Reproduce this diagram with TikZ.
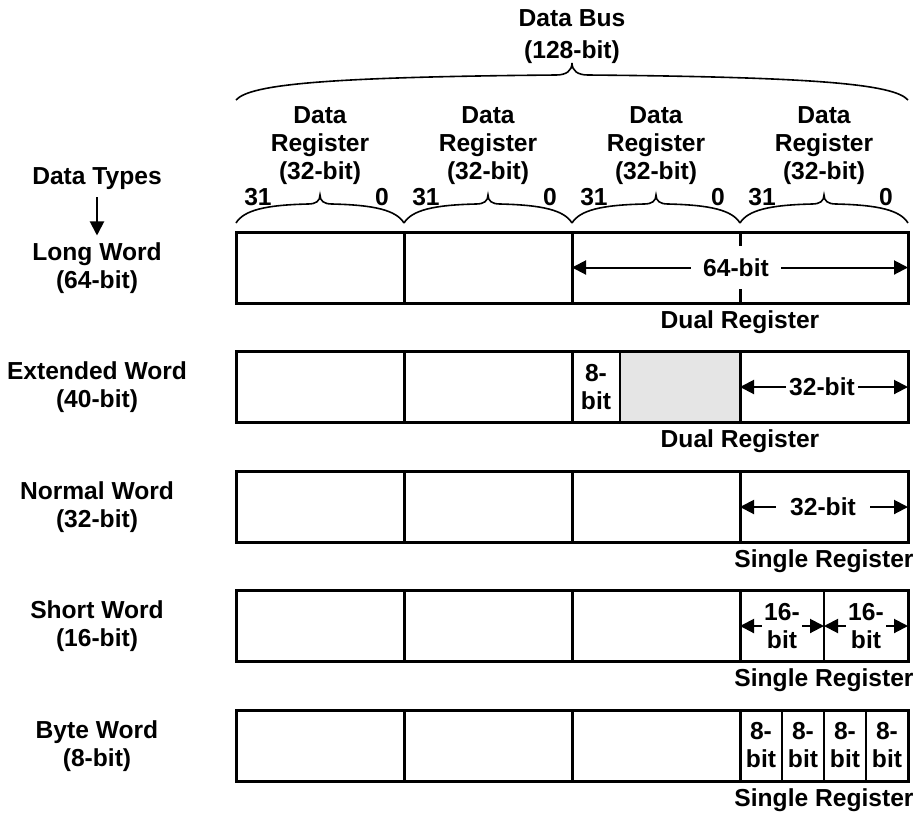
\documentclass[tikz,border=0pt]{standalone}
\usepackage{fontspec}
\setmainfont{Liberation Sans}
\usepackage{tikz}
\usetikzlibrary{arrows.meta}

\tikzset{
  every node/.style={font=\bfseries\fontsize{12.3}{14}\selectfont, align=center},
  reg/.style={draw, line width=1.5pt, minimum width=84pt, minimum height=35.5pt, inner sep=0pt, outer sep=0pt},
  bits/.style={draw, line width=1pt, minimum width=21pt, minimum height=35.5pt, inner sep=0pt, outer sep=0pt},
  span/.style={->, line width=1pt, >={Triangle[length=7pt,width=7pt]}},
  bus/.style={line width=0.8pt},
}

\begin{document}
\begin{tikzpicture}[x=0.5pt, y=-0.5pt]
    \useasboundingbox (0,0) rectangle (917,816);

    \node (bus) at (572,37) {Data Bus\\[2pt](128-bit)};
    \draw[bus] (236,100) .. controls (250,84) and (330,77) .. (556,75)
      .. controls (566,75) and (572,71) .. (572,63)
      .. controls (572,71) and (578,75) .. (588,75)
      .. controls (814,77) and (894,84) .. (908,100);
    \foreach \x/\n in {236/1,404/2,572/3,740/4} {
      \node (dr\n) at (\x+84,145.5) {Data\\Register\\(32-bit)};
      \node (hi\n) at (\x+22,197) {31};
      \node (lo\n) at (\x+146,197) {0};
      \draw[bus] (\x,223) .. controls (\x+8,210) and (\x+30,205) .. (\x+72,204)
        .. controls (\x+80,204) and (\x+84,201) .. (\x+84,195)
        .. controls (\x+84,201) and (\x+88,204) .. (\x+96,204)
        .. controls (\x+138,205) and (\x+160,210) .. (\x+168,223);
    }

    \node (types) at (97,179) {Data Types};
    \node (long) at (97,268) {Long Word\\(64-bit)};
    \node (ext) at (97,387) {Extended Word\\(40-bit)};
    \node (norm) at (97,507) {Normal Word\\(32-bit)};
    \node (short) at (97,626) {Short Word\\(16-bit)};
    \node (byte) at (97,746) {Byte Word\\(8-bit)};
    \draw[span] (types) -- (long);

    \foreach \y/\n in {267.5/1,387/2,506.5/3,626/4,745.5/5} {
      \node[reg] (a\n) at (320,\y) {};
      \node[reg] (b\n) at (488,\y) {};
    }

    % long word: dual register
    \node[reg, minimum width=168pt] (d1) at (740,267.5) {};
    \draw[line width=1.5pt] (d1.north) -- ++(0,14);
    \draw[line width=1.5pt] (d1.south) -- ++(0,-14);
    \node[inner sep=6pt] (w64) at (736,267.5) {64-bit};
    \draw[span] (w64) -- (w64 -| d1.west);
    \draw[span] (w64) -- (w64 -| d1.east);
    \node (dual1) at (740,322) {Dual Register};

    % extended word: dual register
    \node[bits, minimum width=24pt] (e8) at (596,387) {8-\\bit};
    \node[bits, minimum width=60pt, fill=black!10] (eg) at (680,387) {};
    \node[reg] (c2) at (656,387) {};
    \node[reg] (d2) at (824,387) {};
    \node[inner sep=1.5pt] (w32a) at (822,387) {32-bit};
    \draw[span] (w32a) -- (w32a -| d2.west);
    \draw[span] (w32a) -- (w32a -| d2.east);
    \node (dual2) at (740,441.5) {Dual Register};

    % normal word
    \node[reg] (c3) at (656,506.5) {};
    \node[reg] (d3) at (824,506.5) {};
    \node[inner sep=7pt] (w32b) at (823,507) {32-bit};
    \draw[span] (w32b) -- (w32b -| d3.west);
    \draw[span] (w32b) -- (w32b -| d3.east);
    \node (single3) at (824,561) {Single Register};

    % short word
    \node[reg] (c4) at (656,626) {};
    \node[bits, minimum width=42pt] (s1) at (782,626) {};
    \node[bits, minimum width=42pt] (s2) at (866,626) {};
    \node[reg] (d4) at (824,626) {};
    \node[inner sep=1pt] (w16a) at (s1) {16-\\bit};
    \node[inner sep=1pt] (w16b) at (s2) {16-\\bit};
    \draw[span] (w16a) -- (w16a -| s1.west);
    \draw[span] (w16a) -- (w16a -| s1.east);
    \draw[span] (w16b) -- (w16b -| s2.west);
    \draw[span] (w16b) -- (w16b -| s2.east);
    \node (single4) at (824,680.5) {Single Register};

    % byte word
    \node[reg] (c5) at (656,745.5) {};
    \foreach \x/\n in {761/1,803/2,845/3,887/4}
      \node[bits] (y\n) at (\x,745.5) {8-\\bit};
    \node[reg] (d5) at (824,745.5) {};
    \node (single5) at (824,800) {Single Register};
\end{tikzpicture}
\end{document}
